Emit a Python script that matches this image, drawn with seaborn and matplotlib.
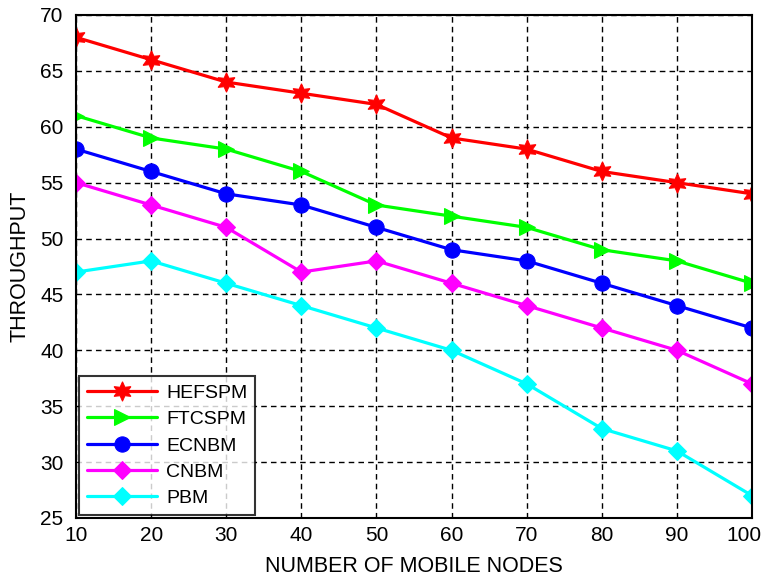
import pandas as pd
import matplotlib
matplotlib.use("Agg")
import matplotlib.pyplot as plt
import matplotlib.transforms as mtransforms
import seaborn as sns

nodes = [10, 20, 30, 40, 50, 60, 70, 80, 90, 100]
hefspm = [68, 66, 64, 63, 62, 59, 58, 56, 55, 54]
ftcspm = [61, 59, 58, 56, 53, 52, 51, 49, 48, 46]
ecnbm = [58, 56, 54, 53, 51, 49, 48, 46, 44, 42]
cnbm = [55, 53, 51, 47, 48, 46, 44, 42, 40, 37]
pbm = [47, 48, 46, 44, 42, 40, 37, 33, 31, 27]

names = ['HEFSPM', 'FTCSPM', 'ECNBM', 'CNBM', 'PBM']
colors = ['#ff0000', '#00ff00', '#0000ff', '#ff00ff', '#00ffff']
markers = [(6, 1, 0), '>', 'o', 'D', 'D']
sizes = [14, 11, 11, 9, 9]

df = pd.concat([
    pd.DataFrame({'Nodes': nodes, 'Throughput': vals, 'Method': name})
    for name, vals in zip(names, [hefspm, ftcspm, ecnbm, cnbm, pbm])
])

sns.set_style("white", {'text.color': 'black', 'axes.labelcolor': 'black',
                        'xtick.color': 'black', 'ytick.color': 'black'})
plt.rcParams['font.family'] = ['Liberation Sans', 'DejaVu Sans']

fig = plt.figure(figsize=(7.64, 5.79), dpi=100)
ax = fig.add_axes([0.0995, 0.1054, 0.8848, 0.8687])

for name, c, m, s in zip(names, colors, markers, sizes):
    sub = df[df['Method'] == name]
    sns.lineplot(data=sub, x='Nodes', y='Throughput', ax=ax, color=c,
                 marker=m, markersize=s, markeredgecolor=c, linewidth=2.3,
                 label=name)

ax.set_xlim(10, 100)
ax.set_ylim(25, 70)
ax.set_xticks(nodes)
ax.set_yticks(range(25, 71, 5))
ax.grid(True, color='black', linestyle=(0, (4, 3)), linewidth=1)
ax.tick_params(axis='both', labelsize=15, direction='in', length=4,
               color='black', labelcolor='black')
ax.tick_params(axis='x', pad=6)
ax.tick_params(axis='y', pad=9)
for sp in ax.spines.values():
    sp.set_color('black')
    sp.set_linewidth(1.5)
ax.set_xlabel('NUMBER OF MOBILE NODES', fontsize=15.5, labelpad=8, color='black')
ax.set_ylabel('THROUGHPUT', fontsize=15.5, labelpad=7, color='black')

# keep the last x tick label inside the figure
last = ax.get_xticklabels()[-1]
last.set_transform(last.get_transform() + mtransforms.ScaledTranslation(-6 / 72, 0, fig.dpi_scale_trans))

leg = ax.legend(loc='lower left', fontsize=14, frameon=True, fancybox=False,
                edgecolor='black', handlelength=3.6, borderaxespad=0.15,
                labelspacing=0.45, handletextpad=0.5)
leg.get_frame().set_linewidth(1.5)
for t in leg.get_texts():
    t.set_color('black')

fig.savefig('out.png', dpi=100)
